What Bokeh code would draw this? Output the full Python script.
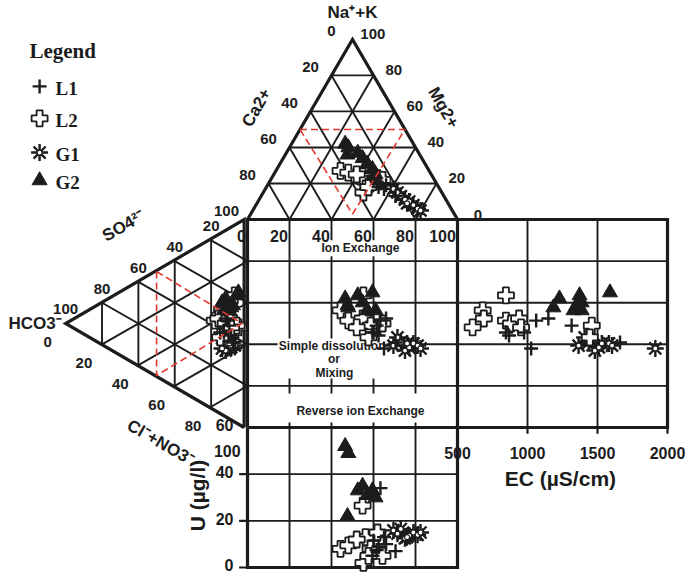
import numpy as np
from bokeh.plotting import figure
from bokeh.models import Range1d
from bokeh.core.properties import value
from bokeh.embed import file_html
from bokeh.resources import INLINE

# ---------------- data (percent of meq, EC in uS/cm, U in ug/l) ----------------
groups = ["L1", "L2", "G1", "G2"]

L1_Ca = [26.7, 23.0, 29.0, 28.6, 28.5, 26.5, 24.5, 28.0]
L1_Mg = [53.3, 64.0, 49.0, 53.4, 47.5, 56.5, 56.5, 51.0]
L1_NaK = [20.0, 13.0, 22.0, 18.0, 24.0, 17.0, 19.0, 21.0]
L1_HCO3 = [11, 8, 13, 9, 15, 7, 12, 10]
L1_SO4 = [45.9, 36.9, 39.2, 39.7, 38.2, 34.5, 46.4, 44.0]
L1_Cl = [43.1, 55.1, 47.8, 51.3, 46.8, 58.5, 41.6, 46.0]
L1_EC = [1062, 1661, 846, 868, 976, 1026, 1149, 1315]
L1_U = [34, 7, 11.5, 9, 5, 13, 10, 7.5]

L2_Ca = [42.2, 39.0, 37.3, 33.3, 26.6, 24.7, 33.2, 31.4, 33.4, 35.5]
L2_Mg = [30.8, 35.0, 47.7, 45.7, 50.4, 53.3, 42.8, 48.6, 48.6, 39.5]
L2_NaK = [27, 26, 15, 21, 23, 22, 24, 20, 18, 25]
L2_HCO3 = [14, 18, 7, 16, 5, 12, 10, 6, 15, 9]
L2_SO4 = [49.3, 42.4, 60.0, 44.4, 45.6, 44.0, 47.4, 46.0, 35.8, 43.6]
L2_Cl = [36.7, 39.6, 33.0, 39.6, 49.4, 44.0, 42.6, 48.0, 49.2, 47.4]
L2_EC = [680, 846, 846, 688, 608, 882, 940, 1459, 1445, 954]
L2_U = [8, 9.5, 2, 13, 15, 5, 26.5, 8, 5, 12]

G1_Ca = [22.0, 21.1, 20.5, 19.5, 18.0, 17.0, 16.0, 15.1, 19.5]
G1_Mg = [61.0, 63.9, 66.5, 69.5, 72.0, 75.0, 78.0, 79.9, 71.5]
G1_NaK = [17, 15, 13, 11, 10, 8, 6, 5, 9]
G1_HCO3 = [10, 13, 8, 12, 9, 11, 7, 14, 10]
G1_SO4 = [34.4, 36.8, 36.9, 31.0, 34.0, 34.9, 35.9, 31.0, 35.4]
G1_Cl = [55.6, 50.2, 55.1, 57.0, 57.0, 54.1, 57.1, 55.0, 54.6]
G1_EC = [1365, 1408, 1437, 1481, 1510, 1582, 1604, 1913, 1531]
G1_U = [15.9, 14.5, 16.5, 12.5, 13.7, 15.0, 14.0, 15.0, 13.0]

G2_Ca = [32.5, 32.0, 29.0, 28.2, 27.5, 26.5, 26.5, 34.4]
G2_Mg = [25.5, 28.0, 34.0, 37.8, 41.5, 45.5, 48.5, 29.6]
G2_NaK = [42, 40, 37, 34, 31, 28, 25, 36]
G2_HCO3 = [12, 9, 6, 14, 10, 5, 13, 8]
G2_SO4 = [56.0, 53.2, 60.5, 53.1, 51.3, 62.4, 49.8, 54.7]
G2_Cl = [32.0, 37.8, 33.5, 32.9, 38.7, 32.6, 37.2, 37.3]
G2_EC = [1228, 1185, 1372, 1387, 1329, 1589, 1387, 1351]
G2_U = [104, 98, 33, 35, 31, 33, 30, 22]

tri_ticks = [0, 20, 40, 60, 80, 100]
sq_ticks = [0, 20, 40, 60, 80, 100]
ec_ticks = [500, 1000, 1500, 2000]
u_ticks = [0, 20, 40, 60]
u_break_tick = 100

# ---------------- geometry helpers ----------------
H = 50 * np.sqrt(3)          # triangle height for side 100
EC0, EC1 = 500, 2000
U_TOP = 60.0
U_H = 67.3                    # height of U panel in plot units


def cat_xy(ca, mg, na):
    ca, mg, na = map(np.asarray, (ca, mg, na))
    t = ca + mg + na
    m, n = mg / t, na / t
    return 100 * (m + n / 2), 100 + H * n


def an_xy(h, s, c):
    h, s, c = map(np.asarray, (h, s, c))
    t = h + s + c
    hh, ss = h / t, s / t
    return -H * hh, 100 * ss + 50 * hh


def ec_x(ec):
    return 100 + (np.asarray(ec, dtype=float) - EC0) / (EC1 - EC0) * 100


def u_y(u):
    u = np.asarray(u, dtype=float)
    disp = np.where(u <= U_TOP, u, 50 + (u - 100) * 0.5)
    return -U_H + disp * U_H / U_TOP


p = figure(width=685, height=574, x_range=Range1d(-117.62, 208.57),
           y_range=Range1d(-70.67, 205.29), output_backend="svg",
           toolbar_location=None, min_border=0, x_axis_type=None,
           y_axis_type=None, outline_line_color=None,
           background_fill_color="white", border_fill_color="white")
p.grid.visible = False

INK = "#1c1c1c"
FONT = value("Liberation Sans")
SERIF = value("Liberation Serif")
thin, thick = 1.9, 3.2

# ---------------- inner grids ----------------
gx, gy = [], []
steps = [0.2, 0.4, 0.6, 0.8]
for f in steps:
    # square
    gx += [[100 * f, 100 * f], [0, 100]]
    gy += [[0, 100], [100 * f, 100 * f]]
    # top triangle
    gx += [[50 * f, 100 - 50 * f], [100 * f, 100 * f + (100 - 100 * f) * 0.5], [100 * f, 50 * f]]
    gy += [[100 + H * f, 100 + H * f], [100, 100 + H * (1 - f)], [100, 100 + H * f]]
    # left triangle
    gx += [[-H * f, -H * f], [0, -H * f], [0, -H * (1 - f)]]
    gy += [[50 * f, 100 - 50 * f], [100 * f, 50 * f], [100 * f, 50 + 50 * f]]
    # right (EC) panel horizontals
    gx += [[100, 200]]
    gy += [[100 * f, 100 * f]]
for e in ec_ticks[1:-1]:
    gx += [[ec_x(e), ec_x(e)]]
    gy += [[0, 100]]
# bottom (U) panel
for f in steps:
    gx += [[100 * f, 100 * f]]
    gy += [[-U_H, 0]]
for u in u_ticks[1:-1]:
    gx += [[0, 100]]
    gy += [[u_y(u), u_y(u)]]
p.multi_line(gx, gy, line_color=INK, line_width=thin)

# ---------------- outer borders ----------------
bx = [[0, 50, 100, 0], [-1.6, -H, -1.6, -1.6], [0, 100, 100, 0, 0],
      [100, 200, 200, 100], [0, 0, 100, 100]]
by = [[100, 100 + H, 100, 100], [0, 50, 100, 0], [0, 0, 100, 100, 0],
      [100, 100, 0, 0], [0, -U_H, -U_H, 0]]
p.multi_line(bx, by, line_color=INK, line_width=thick, line_join="miter")

# ticks
tx, ty = [], []
for e in ec_ticks:
    tx.append([ec_x(e), ec_x(e)]); ty.append([0, -3])
for u in u_ticks[:-1]:
    tx.append([0, -4]); ty.append([u_y(u), u_y(u)])
p.multi_line(tx, ty, line_color=INK, line_width=2.2)

# ---------------- white boxes behind region texts ----------------
p.quad(left=[37, 14.3, 19.0], right=[73, 66.2, 84.8], bottom=[82.3, 23.6, 2.4],
       top=[90.0, 42.8, 16.3], fill_color="white", line_color=None)

p.text(x=[53.8, 53.8], y=[86.1, 7.7], text=["Ion Exchange", "Reverse ion Exchange"],
       text_font=FONT, text_font_style="bold", text_font_size="12px",
       text_align="center", text_baseline="middle", text_color=INK)
p.text(x=[40.3, 41.2, 41.4], y=[39.2, 33.0, 26.2], text=["Simple dissolution", "or", "Mixing"],
       text_font=FONT, text_font_style="bold", text_font_size="12px",
       text_align="center", text_baseline="middle", text_color=INK)

# ---------------- tick labels ----------------
num_style = dict(text_font=FONT, text_font_style="bold", text_color=INK,
                 text_baseline="middle")
apex = np.array([50, 100 + H]); BL = np.array([0, 100]); BR = np.array([100, 100])
# top triangle left edge (Ca): 0 at apex
lx = [apex[0] + (BL[0] - apex[0]) * v / 100 - 10 for v in tri_ticks]
ly = [apex[1] + (BL[1] - apex[1]) * v / 100 + 4 for v in tri_ticks]
# right edge (Mg): 100 at apex
rx = [BR[0] + (apex[0] - BR[0]) * v / 100 + 9.7 for v in tri_ticks]
ry = [BR[1] + (apex[1] - BR[1]) * v / 100 + 2.4 for v in tri_ticks]
p.text(x=lx + rx, y=ly + ry, text=[str(v) for v in tri_ticks] * 2,
       text_font_size="15px", text_align="center", **num_style)

# left triangle
Lap = np.array([-H, 50]); TR = np.array([0, 100]); BRc = np.array([0, 0])
up_v = tri_ticks[1:]
ux = [TR[0] + (Lap[0] - TR[0]) * v / 100 for v in up_v]
uy = [TR[1] + (Lap[1] - TR[1]) * v / 100 + 6.8 for v in up_v]
lo_v = tri_ticks[:-1]
dx = [Lap[0] + (BRc[0] - Lap[0]) * v / 100 - 8.6 for v in lo_v]
dy = [Lap[1] + (BRc[1] - Lap[1]) * v / 100 - 9.1 for v in lo_v]
p.text(x=ux + dx, y=uy + dy, text=[str(v) for v in up_v + lo_v],
       text_font_size="15px", text_align="center", **num_style)

# square top labels
p.text(x=[v - 0.8 for v in sq_ticks], y=[92.3] * len(sq_ticks),
       text=[str(v) for v in sq_ticks], text_font_size="16px",
       text_align="right", **num_style)

# EC labels
p.text(x=list(ec_x(ec_ticks)), y=[-12.3] * len(ec_ticks),
       text=[str(v) for v in ec_ticks], text_font_size="16px",
       text_align="center", **num_style)
# U labels
p.text(x=[-6.7] * len(u_ticks) + [-3.3],
       y=[float(v) + 1.0 for v in u_y(u_ticks)] + [float(u_y(u_break_tick))],
       text=[str(v) for v in u_ticks] + [str(u_break_tick)], text_font_size="16px",
       text_align="right", **num_style)

# ---------------- axis titles ----------------
ttl = dict(text_font=FONT, text_font_style="bold", text_color=INK,
           text_align="center", text_baseline="middle")
p.text(x=[50], y=[199.5], text=["Na\u207a+K"], text_font_size="17px", **ttl)
p.text(x=[4.3], y=[153.8], text=["Ca2+"], angle=np.pi / 3, text_font_size="17px", **ttl)
p.text(x=[93.3], y=[153.8], text=["Mg2+"], angle=-np.pi / 3, text_font_size="17px", **ttl)
p.text(x=[-59], y=[97], text=["SO4\u00b2\u207b"], angle=np.pi / 6, text_font_size="17px", **ttl)
p.text(x=[-41.4], y=[-7.2], text=["Cl\u207b+NO3\u207b"], angle=-np.pi / 6, text_font_size="17px", **ttl)
p.text(x=[-88.5], y=[50], text=["HCO3\u207b"], text_font_size="17px", text_font=FONT,
       text_font_style="bold", text_color=INK, text_align="right", text_baseline="middle")
p.text(x=[149], y=[-24.5], text=["EC (\u00b5S/cm)"], text_font_size="21px", **ttl)
p.text(x=[-23.8], y=[-32.7], text=["U (\u00b5g/l)"], angle=np.pi / 2, text_font_size="21px", **ttl)

# ---------------- data markers ----------------
data = {
    "L1": (L1_Ca, L1_Mg, L1_NaK, L1_HCO3, L1_SO4, L1_Cl, L1_EC, L1_U),
    "L2": (L2_Ca, L2_Mg, L2_NaK, L2_HCO3, L2_SO4, L2_Cl, L2_EC, L2_U),
    "G1": (G1_Ca, G1_Mg, G1_NaK, G1_HCO3, G1_SO4, G1_Cl, G1_EC, G1_U),
    "G2": (G2_Ca, G2_Mg, G2_NaK, G2_HCO3, G2_SO4, G2_Cl, G2_EC, G2_U),
}


def draw(name, x, y):
    x = np.asarray(x, dtype=float); y = np.asarray(y, dtype=float)
    if name == "L1":
        p.scatter(x, y, marker="cross", size=14, line_color=INK, line_width=2.4)
    elif name == "L2":
        p.scatter(x, y, marker="plus", size=16, fill_color="white", line_color=INK, line_width=1.8)
    elif name == "G1":
        p.scatter(x, y, marker="asterisk", size=17, line_color=INK, line_width=2.4)
        p.scatter(x, y, marker="circle", size=5, fill_color="white", line_color=INK, line_width=1.2)
    else:
        p.scatter(x, y, marker="triangle", size=15, fill_color=INK, line_color=INK, line_width=1)


for g in ["G1", "L2", "L1", "G2"]:
    ca, mg, na, h, s, c, ec, u = data[g]
    cx, cy = cat_xy(ca, mg, na)
    ax, ay = an_xy(h, s, c)
    draw(g, cx, cy)                 # cation triangle
    draw(g, ax, ay)                 # anion triangle
    draw(g, cx, ay)                 # central square
    draw(g, ec_x(ec), ay)           # EC panel
    draw(g, cx, u_y(u))             # U panel

# ---------------- red dashed zones ----------------
zc = cat_xy([50, 0, 48.5, 50], [0, 50, 48.5, 0], [50, 50, 3, 50])
za = an_xy([50, 50, 3, 50], [50, 0, 48.5, 50], [0, 50, 48.5, 0])
p.multi_line([list(zc[0]), list(za[0])], [list(zc[1]), list(za[1])],
             line_color="#e2382c", line_width=1.6, line_dash="7 4")

# ---------------- legend ----------------
leg_y = [164.0, 148.6, 132.2, 118.8]
p.text(x=[-88], y=[180.8], text=["Legend"], text_font=SERIF, text_font_style="bold",
       text_font_size="21px", text_align="center", text_baseline="middle", text_color=INK)
for g, yy in zip(groups, leg_y):
    draw(g, [-99], [yy])
p.text(x=[-91.4] * 4, y=[v - 0.8 for v in leg_y], text=groups, text_font=SERIF,
       text_font_style="bold", text_font_size="19px", text_align="left",
       text_baseline="middle", text_color=INK)

open("out.html", "w").write(file_html(p, INLINE))
